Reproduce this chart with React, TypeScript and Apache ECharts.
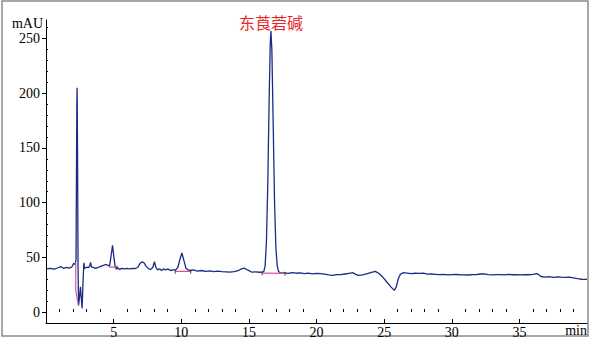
import React, { useEffect, useRef } from "react";
import * as echarts from "echarts";

// Chromatogram trace: retention time (min) and absorbance (mAU)
const TIMES = [
  0.0, 0.3, 0.6, 0.9, 1.1, 1.3, 1.5, 1.7, 1.9, 2.05, 2.15, 2.22, 2.28, 2.3, 2.33, 2.37, 2.41, 2.48, 2.55, 2.6,
  2.67, 2.73, 2.8, 2.86, 2.95, 3.05, 3.15, 3.25, 3.3, 3.36, 3.48, 3.6, 3.8, 4.0, 4.2, 4.4, 4.55, 4.7, 4.82, 4.92,
  5.02, 5.12, 5.2, 5.3, 5.45, 5.6, 5.8, 6.0, 6.2, 6.4, 6.6, 6.8, 6.95, 7.1, 7.25, 7.4, 7.6, 7.75, 7.9, 8.02,
  8.12, 8.25, 8.4, 8.55, 8.7, 8.85, 9.0, 9.2, 9.4, 9.6, 9.75, 9.9, 10.05, 10.2, 10.35, 10.5, 10.7, 10.9, 11.2, 11.5,
  11.8, 12.1, 12.4, 12.7, 13.0, 13.3, 13.6, 13.9, 14.2, 14.45, 14.65, 14.9, 15.2, 15.5, 15.8, 16.0, 16.1, 16.2, 16.3, 16.4,
  16.5, 16.58, 16.63, 16.7, 16.8, 16.9, 17.0, 17.1, 17.2, 17.35, 17.6, 17.9, 18.2, 18.5, 18.8, 19.1, 19.4, 19.7, 20.0, 20.3,
  20.6, 20.9, 21.2, 21.5, 21.8, 22.1, 22.4, 22.7, 22.9, 23.1, 23.4, 23.7, 24.0, 24.35, 24.6, 24.9, 25.2, 25.5, 25.75, 25.9,
  26.05, 26.2, 26.4, 26.7, 27.0, 27.3, 27.6, 27.9, 28.2, 28.5, 28.8, 29.1, 29.4, 29.7, 30.0, 30.3, 30.6, 30.9, 31.2, 31.5,
  31.8, 32.1, 32.4, 32.7, 33.0, 33.3, 33.6, 33.9, 34.2, 34.5, 34.8, 35.1, 35.4, 35.7, 36.0, 36.3, 36.6, 36.9, 37.2, 37.5,
  37.8, 38.1, 38.4, 38.7, 39.0, 39.3, 39.6, 40.0,
];
const ABSORBANCE = [
  39.5, 40.0, 39.2, 40.5, 41.5, 40.0, 40.8, 40.2, 41.0, 44.5, 43.5, 48, 190, 205, 150, 40, 6, 14, 23, 14,
  3.5, 25, 45, 40, 40.5, 41, 40.5, 43, 45.5, 41, 41, 40, 40.5, 41.5, 42.5, 43.5, 43, 42, 52, 61,
  50, 41, 39.5, 40.5, 39, 40, 39.5, 40, 39.5, 40, 39.8, 41, 44.5, 46, 45, 42, 39.5, 39, 41, 46,
  41, 38.5, 39.5, 38, 39.5, 38.5, 39.5, 38, 38.5, 38.5, 41, 48, 54, 47, 40, 38.5, 38, 38.5, 37.5, 38,
  37.2, 37.6, 37, 37.5, 37, 36.8, 36.6, 37, 37.8, 39.5, 40.2, 38.5, 36.6, 36.8, 36.4, 36.5, 37, 42, 65, 118,
  195, 245, 257, 240, 170, 100, 58, 42, 37, 35.5, 35.8, 35.4, 36, 35.5, 35.8, 35.2, 35.6, 35, 35.3, 35.1,
  34.6, 34, 33.6, 34.3, 34.2, 34.8, 35.4, 36, 34.5, 33.5, 34, 35, 36, 37.2, 35.5, 32, 27.5, 23, 19.8, 23,
  30.5, 34.5, 36, 35.6, 35.2, 35.5, 35.3, 35.5, 34.6, 34.8, 34.5, 34.2, 34.4, 34, 34.3, 34.5, 34.1, 34, 33.9, 34.2,
  34.3, 34.8, 35, 34.2, 34, 34.3, 34.2, 34, 34.4, 34.1, 34.3, 34, 34.2, 34.1, 34.4, 35.2, 32.5, 32, 32.3, 31.8,
  32.2, 31.9, 31.8, 32, 31.2, 30.5, 30, 29.8,
];

// Integration baselines (pink), segments separated by null
const BASELINE_T = [2.2, 2.2, 2.39, null, 4.65, 5.25, null, 9.55, 10.7, null, 15.98, 17.67];
const BASELINE_V = [45.5, 20, 6, null, 41, 41, null, 37.2, 37.2, null, 35.6, 35.3];

// Integration event marks
const EVENT_T = [5.25, 9.55, 10.7, 15.98, 17.67];
const EVENT_V = [40.5, 36.8, 36.8, 35.4, 35.0];

const PEAK_NAME = "东莨菪碱";
const Y_LABELS = [0, 50, 100, 150, 200, 250];
const Y_MINOR = [10, 20, 30, 40, 60, 70, 80, 90, 110, 120, 130, 140, 160, 170, 180, 190, 210, 220, 230, 240, 260];
const X_LABELS = [5, 10, 15, 20, 25, 30, 35];
const X_MINOR = [1, 2, 3, 4, 6, 7, 8, 9, 11, 12, 13, 14, 16, 17, 18, 19, 21, 22, 23, 24, 26, 27, 28, 29, 31, 32, 33, 34, 36, 37, 38, 39];

const FONT = "Liberation Serif";

export default function App() {
  const ref = useRef<HTMLDivElement>(null);
  useEffect(() => {
    document.body.style.margin = "0";
    const chart = echarts.init(ref.current!, null, { renderer: "svg" });
    const trace = TIMES.map((t, i) => [t, ABSORBANCE[i]]);
    const base = BASELINE_T.map((t, i) => (t === null ? [null, null] : [t, BASELINE_V[i]]));
    const events = EVENT_T.map((t, i) => [t, EVENT_V[i]]);
    const axisLine = { show: true, onZero: false, lineStyle: { color: "#000", width: 1 } };
    chart.setOption({
      animation: false,
      grid: { left: 46, right: 3, top: 20, bottom: 16, containLabel: false },
      xAxis: [
        {
          type: "value", min: 0, max: 40, position: "bottom",
          axisLine,
          splitLine: { show: false },
          axisTick: { show: true, inside: true, length: 4, customValues: X_LABELS, lineStyle: { color: "#000" } },
          axisLabel: { show: true, customValues: X_LABELS, margin: 2, fontFamily: FONT, fontSize: 14, color: "#000" },
        },
        {
          type: "value", min: 0, max: 40, position: "bottom", offset: 0,
          axisLine: { show: false },
          splitLine: { show: false },
          axisTick: { show: true, inside: true, length: 3, customValues: X_MINOR, lineStyle: { color: "#000" } },
          axisLabel: { show: false },
        },
      ],
      yAxis: [
        {
          type: "value", min: -10, max: 267, position: "left",
          axisLine,
          splitLine: { show: false },
          axisTick: { show: true, inside: false, length: 4, customValues: Y_LABELS, lineStyle: { color: "#000" } },
          axisLabel: { show: true, customValues: Y_LABELS, margin: 6, fontFamily: FONT, fontSize: 14, color: "#000" },
        },
        {
          type: "value", min: -10, max: 267, position: "left", offset: 0,
          axisLine: { show: false },
          splitLine: { show: false },
          axisTick: { show: true, inside: true, length: 2, customValues: Y_MINOR, lineStyle: { color: "#000" } },
          axisLabel: { show: false },
        },
      ],
      series: [
        {
          type: "line", data: trace, xAxisIndex: 0, yAxisIndex: 0, showSymbol: false, symbol: "none",
          lineStyle: { color: "#1b2a84", width: 1.3 }, z: 2,
        },
        {
          type: "line", data: base, xAxisIndex: 0, yAxisIndex: 0, showSymbol: false, symbol: "none",
          connectNulls: false, lineStyle: { color: "#d9559a", width: 1.2 }, z: 3,
        },
        {
          type: "scatter", data: events, xAxisIndex: 0, yAxisIndex: 0, symbol: "rect", symbolSize: [1, 4],
          itemStyle: { color: "#222" }, z: 4,
        },
      ],
      graphic: [
        {
          type: "rect", shape: { x: 2, y: 1, width: 586, height: 335 },
          style: { fill: "none", stroke: "#8a8a8a", lineWidth: 1.5 }, silent: true,
        },
        {
          type: "text", x: 43, y: 23,
          style: { text: "mAU", fontFamily: FONT, fontSize: 14, fill: "#000", align: "right", verticalAlign: "middle" },
        },
        {
          type: "text", x: 587, y: 330,
          style: { text: "min", fontFamily: FONT, fontSize: 14, fill: "#000", align: "right", verticalAlign: "middle" },
        },
        {
          type: "text", x: 271, y: 22,
          style: { text: PEAK_NAME, fontFamily: "Noto Sans CJK SC", fontSize: 16, fill: "#e8262d", align: "center", verticalAlign: "middle" },
        },
      ],
    });
    return () => chart.dispose();
  }, []);
  return <div ref={ref} style={{ width: 590, height: 339 }} />;
}
